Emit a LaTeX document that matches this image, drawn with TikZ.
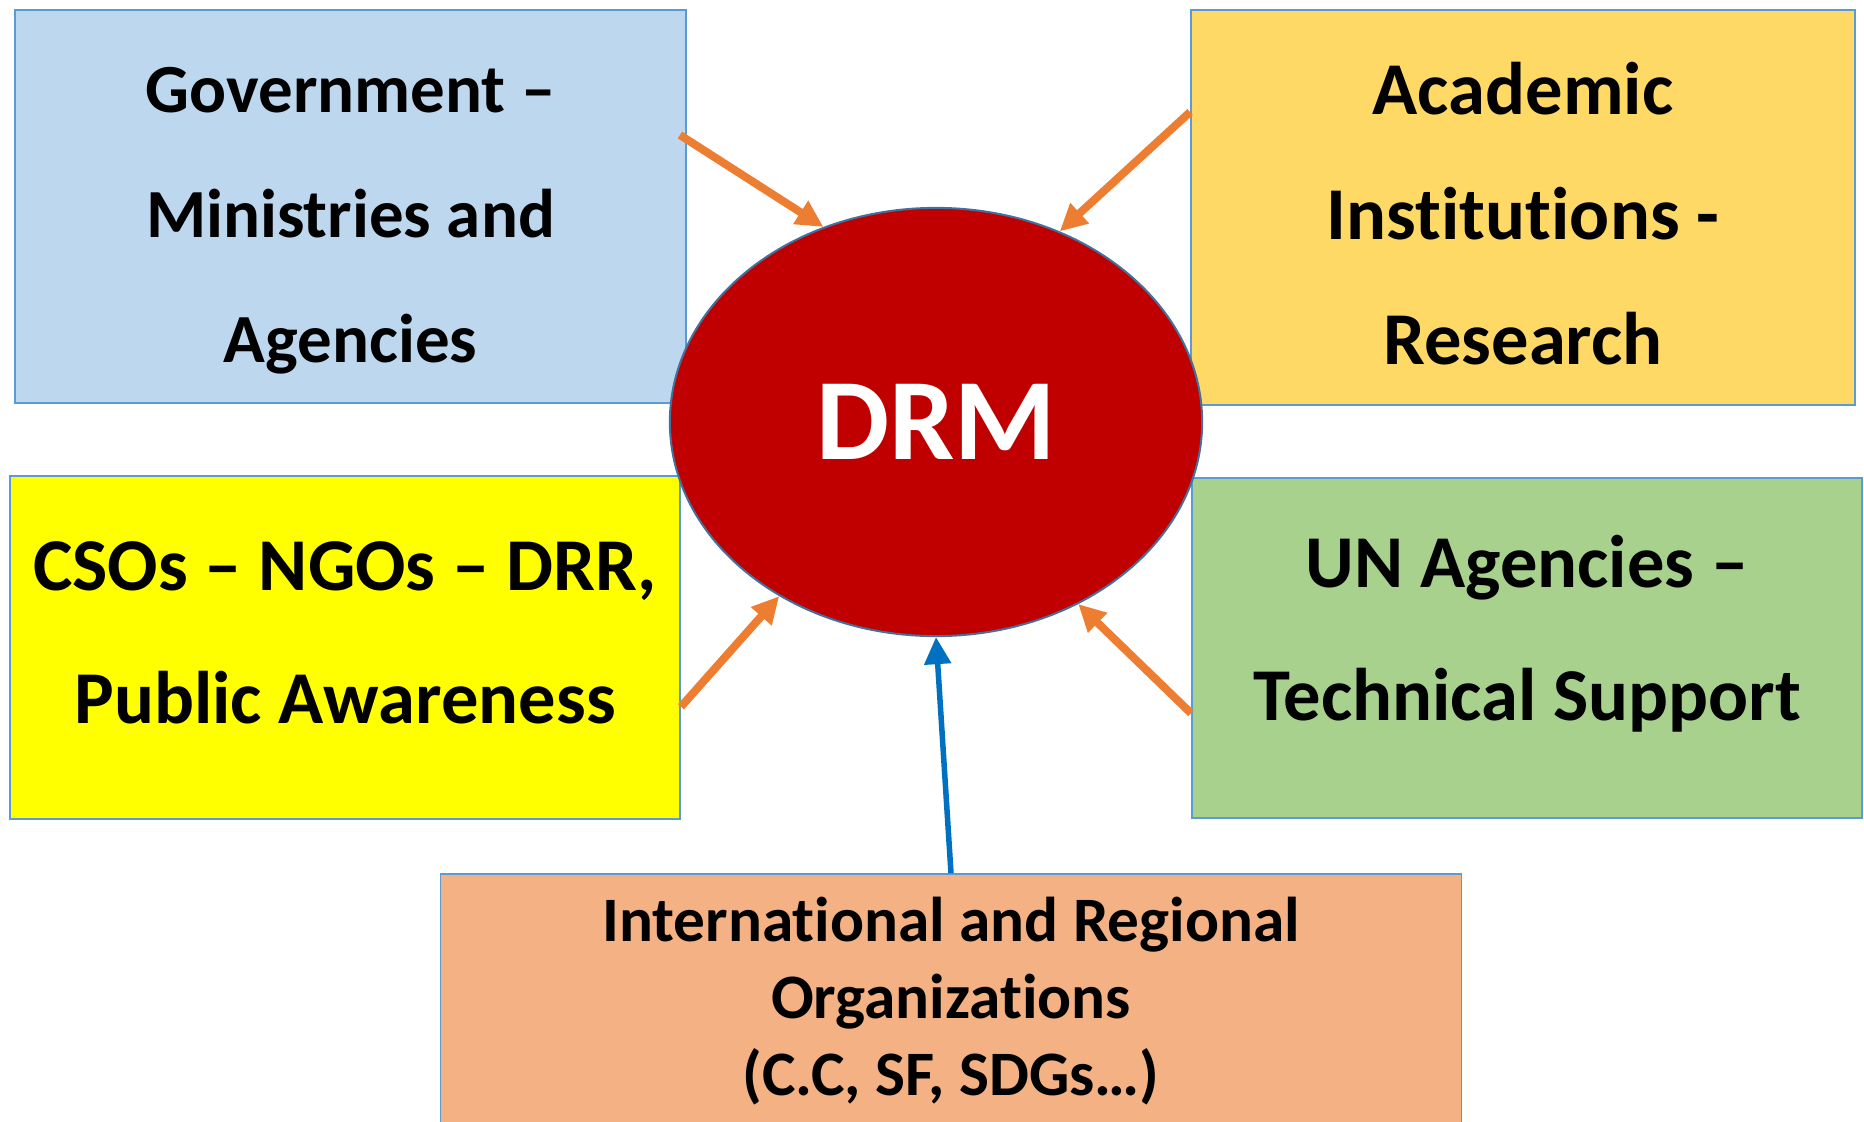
\documentclass[tikz,border=0pt]{standalone}
\usepackage{fontspec}
\setmainfont{Carlito}[Ligatures=NoCommon,RawFeature={-calt}]
\usetikzlibrary{shapes.geometric,arrows.meta}
\definecolor{boxline}{HTML}{5B9BD5}
\definecolor{ringline}{HTML}{41719C}
\definecolor{govblue}{HTML}{BDD7EE}
\definecolor{acadgold}{HTML}{FFD966}
\definecolor{csoyellow}{HTML}{FFFF00}
\definecolor{ungreen}{HTML}{A9D18E}
\definecolor{intlpeach}{HTML}{F4B183}
\definecolor{drmred}{HTML}{C00000}
\definecolor{feedorange}{HTML}{ED7D31}
\definecolor{feedblue}{HTML}{0070C0}

\begin{document}
\begin{tikzpicture}[x=0.01cm,y=-0.01cm,
    box/.style={draw=boxline,line width=0.015cm,inner sep=0pt},
    boxtext/.style={align=center,inner sep=0pt,
      font=\fontsize{21.2}{37.8}\selectfont\bfseries},
    feed/.style={line width=0.08cm,draw=feedorange,
      -{Triangle[length=0.27cm,width=0.26cm]}}]
        \useasboundingbox (0,0) rectangle (1864,1121);
        \node[box,fill=govblue,minimum width=6.71cm,minimum height=3.93cm]
        (gov) at (350.5,206.5) {};
        \node[boxtext,yshift=-0.14cm,font=\fontsize{19.6}{35.6}\selectfont\bfseries]
        (govtext) at (gov) {Government --\\Ministries and\\Agencies};
        \node[box,fill=acadgold,minimum width=6.64cm,minimum height=3.95cm]
        (acad) at (1523,207.5) {};
        \node[boxtext,yshift=-0.06cm,font=\fontsize{21.2}{35.6}\selectfont\bfseries]
        (acadtext) at (acad) {Academic\\Institutions -\\Research};
        \node[box,fill=csoyellow,minimum width=6.70cm,minimum height=3.43cm]
        (cso) at (345,647.5) {};
        \node[boxtext,yshift=0.15cm]
        (csotext) at (cso) {CSOs -- NGOs -- DRR,\\Public Awareness};
        \node[box,fill=ungreen,minimum width=6.70cm,minimum height=3.40cm]
        (un) at (1527,648) {};
        \node[boxtext,yshift=0.14cm]
        (untext) at (un) {UN Agencies --\\Technical Support};
        \node[box,fill=intlpeach,minimum width=10.20cm,minimum height=2.54cm,
        align=center,font=\fontsize{18}{21.9}\selectfont\bfseries]
        (intl) at (951,1001) {International and Regional\\Organizations\\(C.C, SF, SDGs…)};
        \node[ellipse,draw=ringline,line width=0.02cm,fill=drmred,inner sep=0pt,
        minimum width=5.32cm,minimum height=4.28cm,text=white,
        font=\fontsize{33}{40}\selectfont\bfseries] (drm) at (936,422) {DRM};
        \draw[feed] ([xshift=-0.07cm]gov.12.6) -- (drm.120.5);
        \draw[feed] (acad.164.2) -- (drm.57.7);
        \draw[feed] (cso.-10.4) -- (drm.-132.6);
        \draw[feed] (un.191.8) -- (drm.-52.9);
        \draw[feed,draw=feedblue,line width=0.055cm] (intl.north) -- (drm.south);
      \end{tikzpicture}
\end{document}
